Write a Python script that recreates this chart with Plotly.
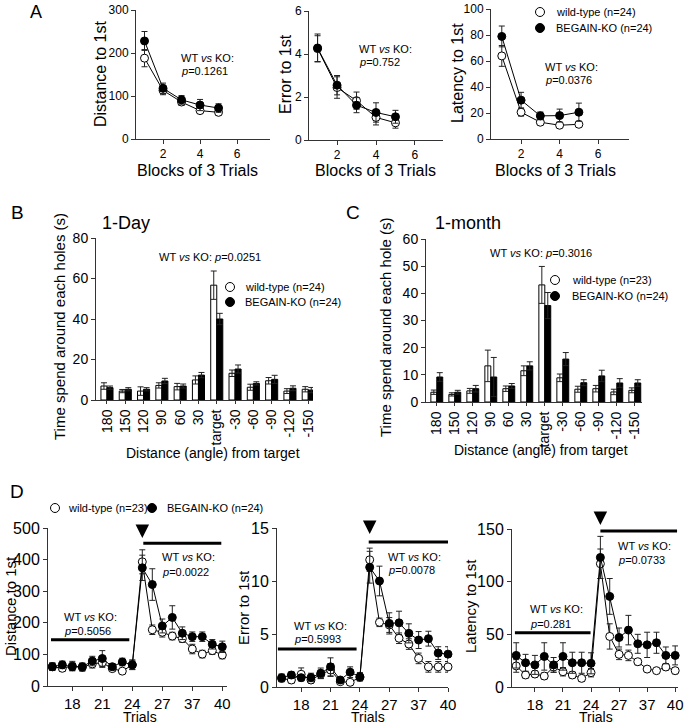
import plotly.graph_objects as go

W, H = 685, 726
FONT = "Liberation Sans, Arial, Helvetica, sans-serif"

# ---------------- data ----------------
blocks = [1, 2, 3, 4, 5]
a_dist_wt = [188, 113, 86, 66, 62]
a_dist_wt_err = [20, 10, 8, 6, 6]
a_dist_ko = [228, 118, 91, 79, 72]
a_dist_ko_err = [22, 12, 10, 13, 10]
a_err_wt = [4.25, 2.44, 1.83, 1.05, 0.80]
a_err_wt_err = [0.6, 0.5, 0.4, 0.35, 0.25]
a_err_ko = [4.28, 2.55, 1.62, 1.28, 1.08]
a_err_ko_err = [0.65, 0.45, 0.35, 0.45, 0.3]
a_lat_wt = [63.9, 20.6, 12.9, 10.6, 11.3]
a_lat_wt_err = [8, 3, 2, 1.5, 1.5]
a_lat_ko = [78.9, 29.9, 17.8, 18.0, 20.6]
a_lat_ko_err = [8, 6, 3, 5, 7]

angles = ["180", "150", "120", "90", "60", "30", "target", "-30", "-60", "-90", "-120", "-150"]
b_wt = [6.9, 4.4, 4.4, 7.2, 6.6, 9.9, 56.7, 13.2, 6.3, 9.5, 4.4, 5.3]
b_wt_err = [1.6, 0.8, 2.1, 1.3, 1.6, 2.0, 7.0, 1.6, 1.5, 1.6, 1.2, 1.3]
b_ko = [6.1, 5.3, 5.3, 9.4, 6.9, 12.3, 40.0, 15.3, 8.2, 10.2, 5.8, 4.9]
b_ko_err = [0.8, 0.8, 0.8, 1.3, 1.0, 1.3, 2.8, 2.0, 0.8, 2.0, 1.2, 1.3]
c_wt = [3.6, 2.8, 4.1, 13.3, 4.9, 11.5, 43.1, 8.9, 4.7, 4.9, 3.7, 4.3]
c_wt_err = [0.8, 0.6, 0.9, 5.8, 1.0, 1.8, 6.8, 1.4, 1.1, 1.2, 1.0, 0.9]
c_ko = [9.2, 3.6, 4.9, 9.2, 5.9, 13.3, 35.5, 15.8, 7.1, 9.6, 7.0, 7.0]
c_ko_err = [1.6, 0.7, 1.2, 7.2, 0.9, 1.5, 4.8, 2.4, 1.1, 2.1, 1.6, 1.2]

trial_pos = list(range(18))
trial_tickvals = [2, 5, 8, 11, 14, 17]
trial_ticktext = ["18", "21", "24", "27", "37", "40"]
d_dist_wt = [61, 56, 63, 59, 70, 74, 55, 47, 67, 393, 178, 170, 158, 150, 117, 101, 112, 98]
d_dist_wt_err = [12, 10, 15, 12, 13, 15, 8, 8, 15, 38, 15, 15, 12, 12, 15, 12, 12, 12]
d_dist_ko = [61, 67, 61, 61, 79, 87, 61, 76, 67, 374, 321, 190, 217, 167, 156, 156, 132, 124]
d_dist_ko_err = [12, 12, 12, 12, 15, 25, 10, 12, 15, 40, 50, 22, 37, 20, 15, 15, 15, 18]
d_err_wt = [0.8, 0.66, 1.2, 0.66, 1.2, 1.6, 0.5, 0.44, 0.9, 12.0, 6.1, 5.85, 4.6, 4.05, 2.7, 1.9, 1.9, 1.9]
d_err_wt_err = [0.3, 0.3, 0.6, 0.3, 0.4, 0.6, 0.2, 0.2, 0.3, 1.1, 0.4, 0.7, 0.5, 0.5, 0.5, 0.5, 0.5, 0.5]
d_err_ko = [0.88, 1.13, 0.88, 0.9, 1.29, 1.9, 0.66, 1.4, 0.97, 11.3, 10.0, 6.0, 6.05, 5.06, 4.43, 4.56, 3.2, 3.1]
d_err_ko_err = [0.35, 0.3, 0.3, 0.4, 0.5, 0.85, 0.2, 0.5, 0.4, 1.5, 1.4, 1.0, 1.1, 0.9, 0.8, 0.7, 0.6, 0.7]
d_lat_wt = [20, 11.4, 12.3, 10.4, 19, 14.5, 11.4, 8.2, 13.6, 117, 48, 31, 30, 24, 17, 15.5, 19, 15.5]
d_lat_wt_err = [6, 3, 3, 3, 5, 4, 3, 3, 4, 14, 12, 5, 5, 3, 2, 2, 3, 3]
d_lat_ko = [30, 23, 21, 29, 21, 29, 23, 23, 22.5, 123, 86, 47, 54, 41, 40, 42, 30, 30]
d_lat_ko_err = [12, 8, 9, 13, 7, 13, 10, 10, 10, 20, 17, 9, 14, 9, 12, 10, 8, 9]

# ---------------- helpers ----------------
def fx(p):
    return p / W

def fy(p):
    return 1 - p / H

fig = go.Figure()

def add_pair(xa, ya, x, wt, wte, ko, koe, msize=8):
    for y, e, fill in ((wt, wte, "white"), (ko, koe, "black")):
        fig.add_trace(go.Scatter(
            x=x, y=y, mode="lines+markers", xaxis=xa, yaxis=ya,
            line=dict(color="black", width=1),
            marker=dict(symbol="circle", size=msize, color=fill,
                        line=dict(color="black", width=1)),
            error_y=dict(type="data", array=e, color="#222", thickness=1, width=3),
            cliponaxis=False, showlegend=False))

def add_bars(xa, ya, wt, wte, ko, koe):
    for y, e, fill in ((wt, wte, "white"), (ko, koe, "black")):
        fig.add_trace(go.Bar(
            x=angles, y=y, xaxis=xa, yaxis=ya,
            marker=dict(color=fill, line=dict(color="black", width=1)),
            error_y=dict(type="data", array=e, color="#222", thickness=1, width=3),
            showlegend=False))

add_pair("x", "y", blocks, a_dist_wt, a_dist_wt_err, a_dist_ko, a_dist_ko_err)
add_pair("x2", "y2", blocks, a_err_wt, a_err_wt_err, a_err_ko, a_err_ko_err)
add_pair("x3", "y3", blocks, a_lat_wt, a_lat_wt_err, a_lat_ko, a_lat_ko_err)
add_bars("x4", "y4", b_wt, b_wt_err, b_ko, b_ko_err)
add_bars("x5", "y5", c_wt, c_wt_err, c_ko, c_ko_err)
add_pair("x6", "y6", trial_pos, d_dist_wt, d_dist_wt_err, d_dist_ko, d_dist_ko_err)
add_pair("x7", "y7", trial_pos, d_err_wt, d_err_wt_err, d_err_ko, d_err_ko_err)
add_pair("x8", "y8", trial_pos, d_lat_wt, d_lat_wt_err, d_lat_ko, d_lat_ko_err)

def axis(size, **kw):
    d = dict(showline=True, linecolor="#333", linewidth=1, ticks="outside",
             ticklen=4, tickwidth=1, tickcolor="#333", showgrid=False,
             zeroline=False, automargin=False, ticklabeloverflow="allow",
             tickfont=dict(family=FONT, size=size, color="black"))
    d.update(kw)
    return d

layout = dict(
    width=W, height=H, margin=dict(l=0, r=0, t=0, b=0, pad=0, autoexpand=False),
    paper_bgcolor="white", plot_bgcolor="white",
    barmode="group", bargap=0.34, bargroupgap=0,
    showlegend=False, font=dict(family=FONT, color="black"),
)

# panel A
layout["xaxis"] = axis(12, domain=[fx(136), fx(270)], range=[0.54, 7.78], tickvals=[2, 4, 6], anchor="y")
layout["yaxis"] = axis(12, domain=[fy(139), fy(10)], range=[0, 300], tickvals=[0, 100, 200, 300], anchor="x")
layout["xaxis2"] = axis(12, domain=[fx(309), fx(443)], range=[0.56, 7.44], tickvals=[2, 4, 6], anchor="y2")
layout["yaxis2"] = axis(12, domain=[fy(140), fy(11)], range=[0, 6], tickvals=[0, 2, 4, 6], anchor="x2")
layout["xaxis3"] = axis(12, domain=[fx(491), fx(629)], range=[0.44, 7.6], tickvals=[2, 4, 6], anchor="y3")
layout["yaxis3"] = axis(12, domain=[fy(139), fy(9)], range=[0, 100], tickvals=[0, 20, 40, 60, 80, 100], anchor="x3")
# panel B, C
layout["xaxis4"] = axis(14, domain=[fx(96), fx(313)], range=[-0.6, 11.26], type="category",
                        tickangle=-90, ticklen=3, anchor="y4")
layout["yaxis4"] = axis(14, domain=[fy(400), fy(238)], range=[0, 80], dtick=20, anchor="x4")
layout["xaxis5"] = axis(14, domain=[fx(426), fx(642)], range=[-0.6, 11.4], type="category",
                        tickangle=-90, ticklen=3, anchor="y5")
layout["yaxis5"] = axis(14, domain=[fy(402), fy(239)], range=[0, 60], dtick=10, anchor="x5")
# panel D
for i, (x0, x1, xr, yb, yt, yr, dt) in zip(
        (6, 7, 8),
        [(48, 227, [-0.43, 17.47], 686, 528, [0, 500], 100),
         (277, 448, [-0.47, 17.0], 687, 528, [0, 15], 5),
         (512, 678, [-0.45, 17.3], 687, 529, [0, 150], 50)]):
    layout[f"xaxis{i}"] = axis(16, domain=[fx(x0), fx(x1)], range=xr, tickvals=trial_tickvals,
                               ticktext=trial_ticktext, anchor=f"y{i}",
                               tickfont=dict(family=FONT, size=15, color="black"))
    layout[f"yaxis{i}"] = axis(16, domain=[fy(yb), fy(yt)], range=yr, dtick=dt, anchor=f"x{i}")

fig.update_layout(**layout)

# ---------------- annotations ----------------
anns = []

def ann(text, x, y, size, xanchor="left", angle=0, yanchor="middle"):
    anns.append(dict(text=text, x=fx(x), y=fy(y), xref="paper", yref="paper",
                     xanchor=xanchor, yanchor=yanchor, showarrow=False, textangle=angle,
                     font=dict(family=FONT, size=size, color="black")))

WTKO = "WT <i>vs</i> KO:"
# panel letters
ann("A", 36, 0, 18, "center", yanchor="top")
ann("B", 17, 212, 19, "center")
ann("C", 353, 212, 19, "center")
ann("D", 17, 491, 19, "center")
# A titles
ann("Distance to 1st", 100, 74, 16, "center", -90)
ann("Error to 1st", 285, 74, 16, "center", -90)
ann("Latency to 1st", 458, 73, 16, "center", -90)
ann("Blocks of 3 Trials", 197, 170, 16, "center")
ann("Blocks of 3 Trials", 375, 170, 16, "center")
ann("Blocks of 3 Trials", 555, 170, 16, "center")
ann(WTKO, 179, 58, 11)
ann("<i>p</i>=0.1261", 179, 71, 11)
ann(WTKO, 357, 49, 11)
ann("<i>p</i>=0.752", 357, 62, 11)
ann(WTKO, 543, 67, 11)
ann("<i>p</i>=0.0376", 543, 80, 11)
ann("wild-type (n=24)", 554, 12, 11)
ann("BEGAIN-KO (n=24)", 554, 28, 11)
# B
ann("1-Day", 100, 223, 18)
ann("Time spend around each holes (s)", 60, 327, 15, "center", -90)
ann(WTKO + " <i>p</i>=0.0251", 157, 257, 11)
ann("wild-type (n=24)", 243, 287, 11)
ann("BEGAIN-KO (n=24)", 243, 302, 11)
ann("Distance (angle) from target", 213, 453, 14, "center")
# C
ann("1-month", 433, 223, 18)
ann("Time spend around each hole (s)", 386, 327, 15, "center", -90)
ann(WTKO + " <i>p</i>=0.3016", 488, 253, 11)
ann("wild-type (n=23)", 570, 280, 11)
ann("BEGAIN-KO (n=24)", 570, 296, 11)
ann("Distance (angle) from target", 541, 450, 14, "center")
# D
ann("wild-type (n=23)", 66, 508, 11)
ann("BEGAIN-KO (n=24)", 165, 508, 11)
ann("Distance to 1st", 10, 606, 15, "center", -90)
ann("Error to 1st", 243, 607, 15, "center", -90)
ann("Latency to 1st", 470, 606, 15, "center", -90)
ann("Trials", 140, 727, 14, "center", yanchor="bottom")
ann("Trials", 368, 727, 14, "center", yanchor="bottom")
ann("Trials", 596, 727, 14, "center", yanchor="bottom")
ann(WTKO, 62, 617, 11)
ann("<i>p</i>=0.5056", 62, 631, 11)
ann(WTKO, 160, 557, 11)
ann("<i>p</i>=0.0022", 160, 572, 11)
ann(WTKO, 292, 626, 11)
ann("<i>p</i>=0.5993", 292, 639, 11)
ann(WTKO, 386, 557, 11)
ann("<i>p</i>=0.0078", 386, 570, 11)
ann(WTKO, 528, 609, 11)
ann("<i>p</i>=0.281", 528, 624, 11)
ann(WTKO, 616, 546, 11)
ann("<i>p</i>=0.0733", 616, 560, 11)

# arrows in D
for xa, tip in (("x6", 538), ("x7", 534), ("x8", 525)):
    anns.append(dict(text="", x=9, y=fy(tip), xref=xa, yref="paper", showarrow=True,
                     ax=0, ay=-14, arrowhead=2, arrowwidth=3, arrowsize=0.9,
                     arrowcolor="black"))

fig.update_layout(annotations=anns)

# ---------------- shapes ----------------
shapes = []

def circ(cx, cy, fill, r=4.5):
    shapes.append(dict(type="circle", xref="paper", yref="paper",
                       x0=fx(cx - r), x1=fx(cx + r), y0=fy(cy + r), y1=fy(cy - r),
                       line=dict(color="black", width=1), fillcolor=fill))

circ(540, 12, "white")
circ(540, 28, "black")
circ(230, 287, "white")
circ(230, 302, "black")
circ(555, 280, "white")
circ(555, 296, "black")
circ(55, 508, "white")
circ(152, 508, "black")

def hbar(xa, ya, x0, x1, y):
    shapes.append(dict(type="line", xref=xa, yref=ya, x0=x0, x1=x1, y0=y, y1=y,
                       line=dict(color="black", width=3)))

hbar("x6", "y6", -0.13, 7.7, 146)
hbar("x6", "y6", 9.1, 16.9, 452)
hbar("x7", "y7", -0.38, 7.66, 3.58)
hbar("x7", "y7", 8.9, 17.04, 13.68)
hbar("x8", "y8", -0.14, 7.95, 51.6)
hbar("x8", "y8", 9.0, 17.2, 148)

fig.update_layout(shapes=shapes)

fig.write_html("out.html", config={"displayModeBar": False},
               post_script="document.body.style.margin='0px';")
